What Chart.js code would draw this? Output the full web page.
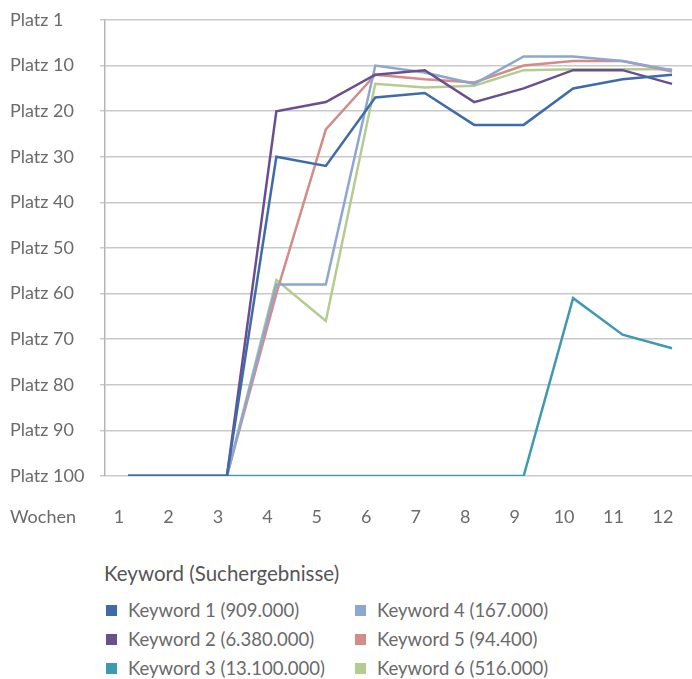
<!DOCTYPE html>
<html lang="de">
<head>
<meta charset="utf-8">
<title>Keyword Ranking</title>
<script src="https://cdn.jsdelivr.net/npm/chart.js@4/dist/chart.umd.min.js"></script>
<style>
  html, body { margin: 0; padding: 0; background: #fff; }
  body { width: 692px; height: 679px; position: relative; overflow: hidden; font-family: Lato, "Open Sans", sans-serif; }
  #chartWrap { position: absolute; left: 0; top: 0; width: 692px; height: 540px; }
  #legendTitle { position: absolute; left: 104px; top: 561px; font-size: 20.5px; color: #555; line-height: 24px; }
  #legend { position: absolute; left: 106px; top: 599px; width: 560px; }
  .legend-item { position: absolute; display: flex; align-items: center; font-size: 18.5px; color: #6a6a6a; line-height: 22px; white-space: nowrap; }
  .legend-box { width: 11px; height: 11px; margin-right: 11px; }
</style>
</head>
<body>
<div id="chartWrap"><canvas id="rankChart"></canvas></div>
<div id="legendTitle">Keyword (Suchergebnisse)</div>
<div id="legend"></div>

<script>
// Wochen 1..12, Platz-Werte je Keyword (1 = oben)
const weeks = [1, 2, 3, 4, 5, 6, 7, 8, 9, 10, 11, 12];
const yTicks = [0, 10, 20, 30, 40, 50, 60, 70, 80, 90, 100];

const keyword1 = [100, 100, 100, 30, 32, 17, 16, 23, 23, 15, 13, 12];
const keyword2 = [100, 100, 100, 20, 18, 12, 11, 18, 15, 11, 11, 14];
const keyword3 = [100, 100, 100, 100, 100, 100, 100, 100, 100, 61, 69, 72];
const keyword4 = [100, 100, 100, 58, 58, 10, 11.5, 14, 8, 8, 9, 11];
const keyword5 = [100, 100, 100, 60, 24, 12, 13, 13.7, 10, 9, 9, 11.3];
const keyword6 = [100, 100, 100, 57, 66, 14, 14.8, 14.4, 11, 10.8, 10.8, 10.8];

const labels = [
  "Keyword 1 (909.000)",
  "Keyword 2 (6.380.000)",
  "Keyword 3 (13.100.000)",
  "Keyword 4 (167.000)",
  "Keyword 5 (94.400)",
  "Keyword 6 (516.000)",
];
const colors = ["#3f6ca8", "#6a4f8e", "#3d9ab0", "#8ea7d0", "#d38c88", "#b5cc90"];
const series = [keyword1, keyword2, keyword3, keyword4, keyword5, keyword6];

const textColor = "#6a6a6a";
const gridColor = "#c9c9c9";
const tickFont = { family: "Lato, 'Open Sans', sans-serif", size: 18 };

/**
 * Draws the "Wochen" caption on the x tick row
 */
const wochenLabel = {
  id: "wochenLabel",
  afterDraw(chart) {
    const ctx = chart.ctx;
    ctx.save();
    ctx.font = "18px Lato, 'Open Sans', sans-serif";
    ctx.fillStyle = textColor;
    ctx.textBaseline = "middle";
    ctx.textAlign = "left";
    ctx.fillText("Wochen", 10, chart.chartArea.bottom + 41);
    ctx.restore();
  },
};

const datasets = series.map((values, i) => ({
  label: labels[i],
  data: values.map((v, j) => ({ x: weeks[j], y: v })),
  borderColor: colors[i],
  backgroundColor: colors[i],
  borderWidth: 2.5,
  pointRadius: 0,
  tension: 0,
  fill: false,
}));

new Chart(document.getElementById("rankChart"), {
  type: "line",
  data: { datasets: datasets },
  options: {
    responsive: true,
    maintainAspectRatio: false,
    animation: false,
    layout: { padding: { left: 10, right: 0, top: 20, bottom: 4 } },
    plugins: {
      legend: { display: false },
      tooltip: { enabled: false },
    },
    scales: {
      x: {
        type: "linear",
        min: 0.535,
        max: 12.404,
        afterBuildTicks: (scale) => {
          scale.ticks = weeks.map((w) => ({ value: w }));
        },
        afterFit: (scale) => {
          scale.height = 60;
          scale.paddingLeft = 0;
          scale.paddingRight = 0;
        },
        grid: { display: false, drawTicks: false },
        border: { display: false },
        ticks: {
          color: textColor,
          font: tickFont,
          padding: 30,
          labelOffset: -9,
          maxRotation: 0,
          autoSkip: false,
          includeBounds: false,
        },
      },
      y: {
        type: "linear",
        reverse: true,
        min: 0,
        max: 100,
        afterBuildTicks: (scale) => {
          scale.ticks = yTicks.map((v) => ({ value: v }));
        },
        afterFit: (scale) => {
          scale.width = 95;
          scale.paddingTop = 0;
          scale.paddingBottom = 0;
        },
        grid: {
          color: gridColor,
          lineWidth: 1.5,
          drawTicks: true,
          tickLength: 5,
        },
        border: { display: true, color: "#b5b5b5", width: 1.5 },
        ticks: {
          color: textColor,
          font: tickFont,
          crossAlign: "far",
          callback: (v) => (v === 0 ? "Platz 1" : "Platz " + v),
        },
      },
    },
  },
  plugins: [wochenLabel],
});

// Legend in two columns (1-3 left, 4-6 right)
const legendEl = document.getElementById("legend");
labels.forEach((label, i) => {
  const item = document.createElement("div");
  item.className = "legend-item";
  item.style.left = (i < 3 ? 0 : 249) + "px";
  item.style.top = (i % 3) * 29 + "px";
  item.innerHTML = `<span class="legend-box" style="background:${colors[i]}"></span>${label}`;
  legendEl.appendChild(item);
});
</script>
</body>
</html>
